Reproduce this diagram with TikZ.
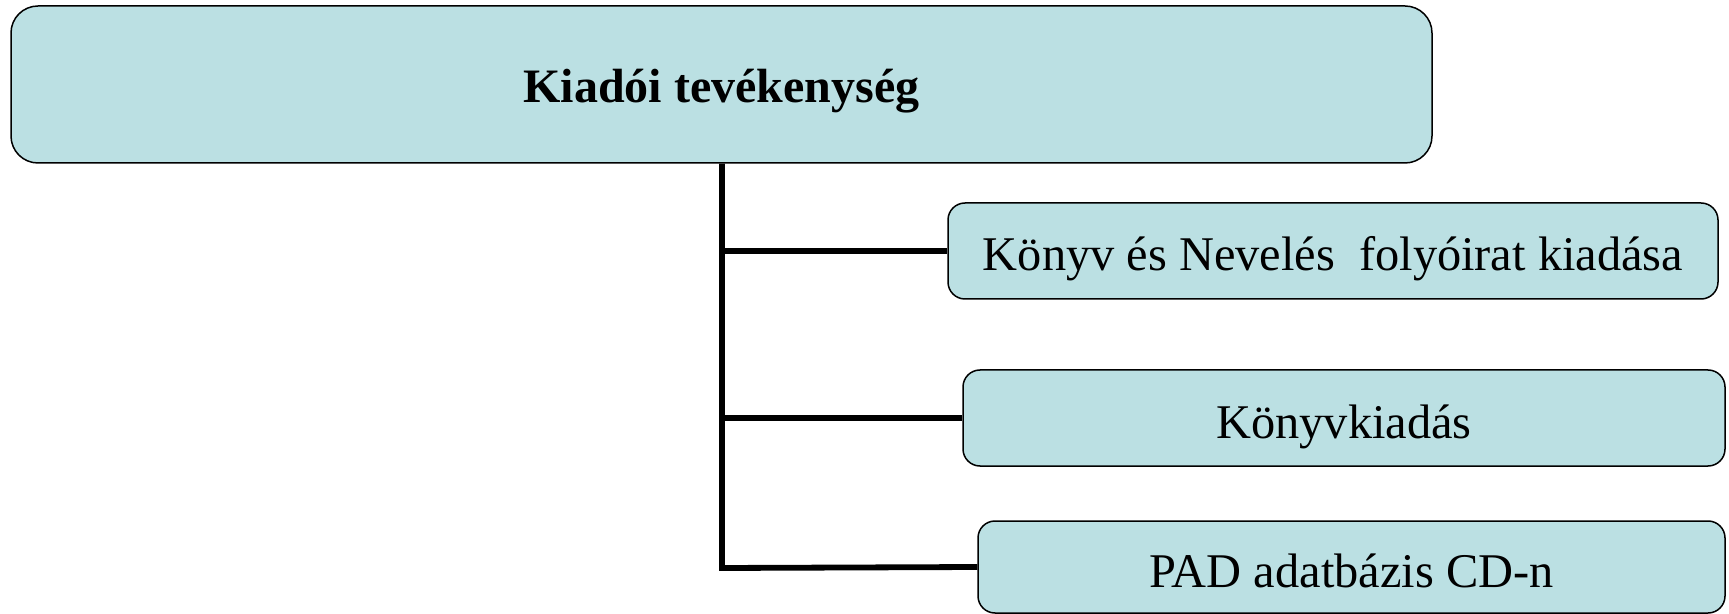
\documentclass[tikz,border=0pt]{standalone}
\usepackage{fontspec}
\setmainfont{Liberation Serif}
\usepackage{tikz}
\usetikzlibrary{positioning}
\definecolor{paleteal}{RGB}{187, 224, 227}

\tikzset{
    unit/.style={draw=black, line width=0.75pt, fill=paleteal, inner sep=0pt, text height=20pt, text depth=0pt, font=\fontsize{24.2}{28}\selectfont},
    trunk/.style={line width=2.9pt, black}
}

\begin{document}
\begin{tikzpicture}[x=0.5pt, y=-0.5pt]
            \useasboundingbox (0,0) rectangle (1729,614);

            \node[unit, rounded corners=13.5pt, minimum width=710.5pt, minimum height=78.5pt, text height=18.5pt, font=\fontsize{24}{28}\selectfont\bfseries] (main) at (721.5,84.5) {Kiadói tevékenység};

            \node[unit, rounded corners=8.5pt, minimum width=385pt, minimum height=48pt] (folyoirat) at (1333,251) {Könyv és Nevelés\ \ folyóirat kiadása};
            \node[unit, rounded corners=8.5pt, minimum width=381pt, minimum height=48pt] (konyv) at (1344,418) {Könyvkiadás};
            \node[unit, rounded corners=8.5pt, minimum width=373.5pt, minimum height=46pt] (pad) at (1351.5,567) {PAD adatbázis CD-n};

            \coordinate (bend) at (722,568);
            \draw[trunk] (main.south -| bend) -- (bend) -- (pad.west);
            \draw[trunk] (folyoirat.west -| bend) -- (folyoirat.west);
            \draw[trunk] (konyv.west -| bend) -- (konyv.west);
        \end{tikzpicture}
\end{document}
